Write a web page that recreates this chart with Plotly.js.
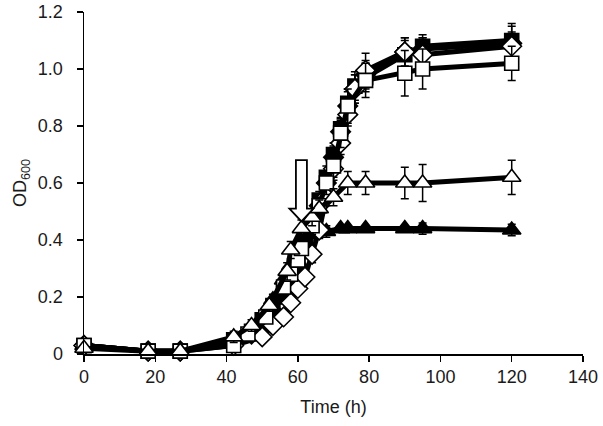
<!DOCTYPE html>
<html>
<head>
<meta charset="utf-8">
<script src="https://cdn.plot.ly/plotly-3.0.1.min.js"></script>
<style>
  html, body { margin: 0; padding: 0; background: #fff; }
  #plot { width: 603px; height: 426px; }
</style>
</head>
<body>
<div id="plot"></div>
<script>
// Growth curves, OD600 vs time (h)
const timeFilledSquare = [0, 18, 27, 42, 47, 50, 53, 56, 58, 60, 62, 64, 66, 68, 70, 72, 74, 76, 79, 90, 95, 120];
const odFilledSquare   = [0.03, 0.01, 0.01, 0.05, 0.08, 0.12, 0.17, 0.23, 0.28, 0.33, 0.39, 0.46, 0.54, 0.62, 0.70, 0.79, 0.88, 0.94, 0.97, 1.05, 1.08, 1.10];
const errFilledSquare  = [0.01, 0.01, 0.01, 0.01, 0.01, 0.02, 0.02, 0.02, 0.02, 0.03, 0.03, 0.03, 0.03, 0.04, 0.04, 0.04, 0.05, 0.05, 0.05, 0.05, 0.04, 0.06];

const timeFilledDiamond = [0, 18, 27, 42, 47, 50, 53, 56, 58, 60, 62, 64, 66, 68, 70, 72, 74, 76, 79, 90, 95, 120];
const odFilledDiamond   = [0.03, 0.01, 0.01, 0.04, 0.07, 0.11, 0.15, 0.21, 0.26, 0.31, 0.37, 0.44, 0.52, 0.60, 0.69, 0.78, 0.87, 0.93, 0.98, 1.06, 1.07, 1.09];
const errFilledDiamond  = [0.01, 0.01, 0.01, 0.01, 0.01, 0.02, 0.02, 0.02, 0.02, 0.03, 0.03, 0.03, 0.03, 0.04, 0.04, 0.04, 0.05, 0.05, 0.05, 0.05, 0.04, 0.06];

const timeOpenDiamond = [0, 18, 27, 42, 50, 53, 56, 58, 60, 62, 64, 66, 68, 70, 72, 74, 76, 79, 90, 95, 120];
const odOpenDiamond   = [0.03, 0.01, 0.01, 0.03, 0.06, 0.10, 0.13, 0.18, 0.23, 0.27, 0.35, 0.435, 0.55, 0.65, 0.74, 0.84, 0.93, 0.995, 1.06, 1.05, 1.08];
const errOpenDiamond  = [0.01, 0.01, 0.01, 0.01, 0.01, 0.02, 0.02, 0.02, 0.02, 0.02, 0.03, 0.03, 0.03, 0.04, 0.04, 0.04, 0.05, 0.06, 0.05, 0.06, 0.05];

const timeOpenSquare = [0, 18, 27, 42, 46, 51, 56, 58, 60, 61, 64, 66, 68, 70, 72, 74, 79, 90, 95, 120];
const odOpenSquare   = [0.03, 0.01, 0.01, 0.03, 0.07, 0.13, 0.235, 0.28, 0.33, 0.37, 0.45, 0.52, 0.60, 0.66, 0.775, 0.87, 0.96, 0.985, 1.00, 1.02];
const errOpenSquare  = [0.01, 0.01, 0.01, 0.01, 0.02, 0.02, 0.02, 0.02, 0.03, 0.03, 0.03, 0.03, 0.04, 0.04, 0.05, 0.06, 0.06, 0.08, 0.07, 0.06];

const timeOpenTriangle = [0, 18, 27, 42, 47, 52, 57, 58, 61, 64, 66, 70, 74, 79, 90, 95, 120];
const odOpenTriangle   = [0.02, 0.01, 0.01, 0.06, 0.10, 0.17, 0.29, 0.365, 0.44, 0.48, 0.51, 0.55, 0.60, 0.60, 0.60, 0.60, 0.62];
const errOpenTriangle  = [0.01, 0.01, 0.01, 0.02, 0.02, 0.02, 0.03, 0.03, 0.03, 0.03, 0.03, 0.03, 0.04, 0.04, 0.055, 0.065, 0.06];

const timeFilledTriangle = [0, 18, 27, 42, 47, 50, 53, 56, 58, 60, 62, 64, 66, 68, 72, 74, 79, 90, 95, 120];
const odFilledTriangle   = [0.03, 0.01, 0.01, 0.05, 0.09, 0.13, 0.19, 0.26, 0.31, 0.36, 0.40, 0.42, 0.43, 0.43, 0.44, 0.44, 0.44, 0.44, 0.44, 0.435];
const errFilledTriangle  = [0.01, 0.01, 0.01, 0.01, 0.01, 0.01, 0.02, 0.02, 0.02, 0.02, 0.02, 0.02, 0.02, 0.02, 0.01, 0.01, 0.01, 0.01, 0.02, 0.02];

// Open arrow marking the time point
const arrowTime = 61;
const arrowTop = 0.68;
const arrowHeadBase = 0.51;
const arrowTip = 0.465;

const xTicks = [0, 20, 40, 60, 80, 100, 120, 140];
const yTicks = [0, 0.2, 0.4, 0.6, 0.8, 1.0, 1.2];
const yTickText = ['0', '0.2', '0.4', '0.6', '0.8', '1.0', '1.2'];

const FONT = 'Liberation Sans, Arial, Helvetica, sans-serif';
const INK = '#1a1a1a';

function makeSeries(x, y, err, symbol, filled, size) {
    return {
        x: x,
        y: y,
        type: 'scatter',
        mode: 'lines+markers',
        cliponaxis: false,
        line: { color: '#000', width: 5 },
        marker: {
            symbol: symbol,
            size: size,
            color: filled ? '#000' : '#fff',
            line: { color: '#000', width: 1.6 }
        },
        error_y: {
            type: 'data',
            array: err,
            visible: true,
            color: '#000',
            thickness: 1.5,
            width: 4
        },
        hoverinfo: 'x+y'
    };
}

const traces = [
    makeSeries(timeFilledTriangle, odFilledTriangle, errFilledTriangle, 'triangle-up', true, 16),
    makeSeries(timeFilledSquare, odFilledSquare, errFilledSquare, 'square', true, 14),
    makeSeries(timeFilledDiamond, odFilledDiamond, errFilledDiamond, 'diamond', true, 15),
    makeSeries(timeOpenDiamond, odOpenDiamond, errOpenDiamond, 'diamond', false, 15),
    makeSeries(timeOpenSquare, odOpenSquare, errOpenSquare, 'square', false, 14),
    makeSeries(timeOpenTriangle, odOpenTriangle, errOpenTriangle, 'triangle-up', false, 16)
];

// arrow outline in data units (shaft ~11 px, head ~24 px wide)
const pxPerHour = 499 / 140;
const shaftHalf = 5.5 / pxPerHour;
const headHalf = 12 / pxPerHour;
const arrowPath =
    'M ' + (arrowTime - shaftHalf) + ' ' + arrowTop +
    ' L ' + (arrowTime + shaftHalf) + ' ' + arrowTop +
    ' L ' + (arrowTime + shaftHalf) + ' ' + arrowHeadBase +
    ' L ' + (arrowTime + headHalf) + ' ' + arrowHeadBase +
    ' L ' + arrowTime + ' ' + arrowTip +
    ' L ' + (arrowTime - headHalf) + ' ' + arrowHeadBase +
    ' L ' + (arrowTime - shaftHalf) + ' ' + arrowHeadBase + ' Z';

const layout = {
    width: 603,
    height: 426,
    margin: { l: 84, r: 20, t: 12, b: 72 },
    paper_bgcolor: '#fff',
    plot_bgcolor: '#fff',
    showlegend: false,
    font: { family: FONT, size: 18, color: INK },
    xaxis: {
        range: [0, 140],
        tickvals: xTicks,
        ticks: 'outside',
        ticklen: 6,
        tickwidth: 1.5,
        tickcolor: '#000',
        showline: true,
        linecolor: '#000',
        linewidth: 1.5,
        showgrid: false,
        zeroline: false,
        tickfont: { family: FONT, size: 18, color: INK },
        title: { text: 'Time (h)', font: { family: FONT, size: 18, color: INK }, standoff: 14 }
    },
    yaxis: {
        range: [0, 1.2],
        tickvals: yTicks,
        ticktext: yTickText,
        ticks: 'outside',
        ticklen: 6,
        tickwidth: 1.5,
        tickcolor: '#000',
        showline: true,
        linecolor: '#000',
        linewidth: 1.5,
        showgrid: false,
        zeroline: false,
        ticklabelstandoff: 10,
        tickfont: { family: FONT, size: 18, color: INK },
        title: { text: 'OD<sub>600</sub>', font: { family: FONT, size: 18, color: INK }, standoff: 6 }
    },
    shapes: [{
        type: 'path',
        xref: 'x',
        yref: 'y',
        path: arrowPath,
        fillcolor: '#fff',
        line: { color: '#000', width: 1.8 },
        layer: 'above'
    }]
};

Plotly.newPlot('plot', traces, layout, { displayModeBar: false, staticPlot: true });
</script>
</body>
</html>
